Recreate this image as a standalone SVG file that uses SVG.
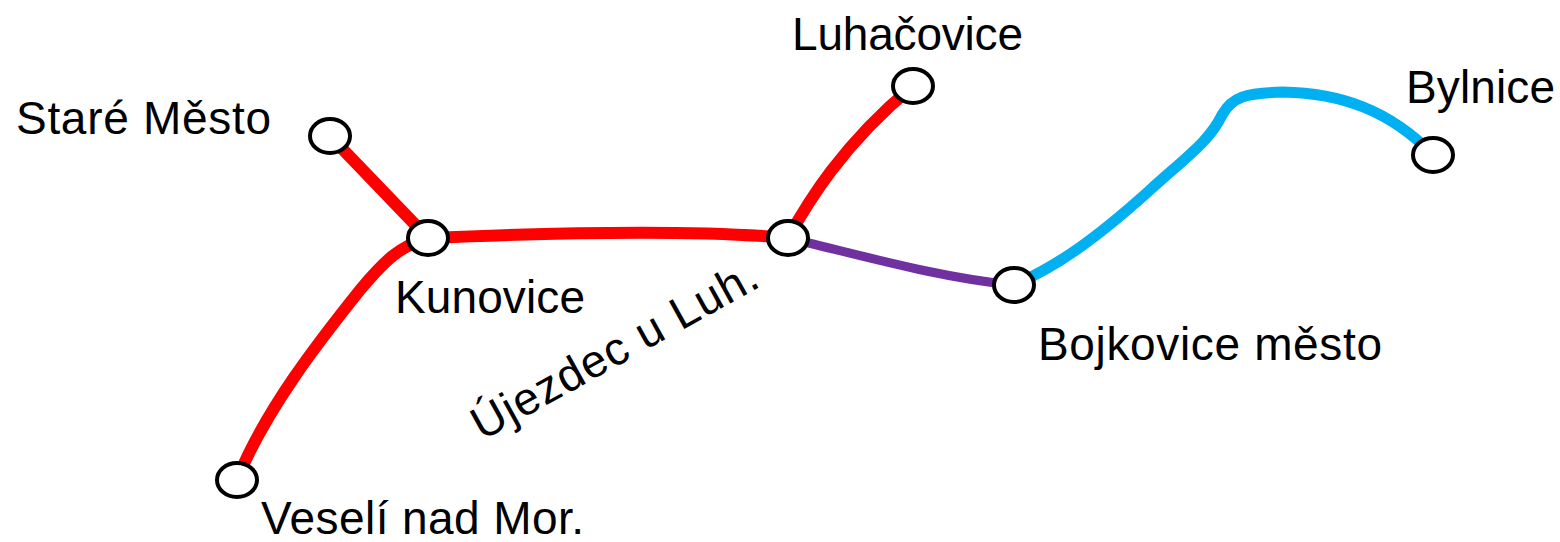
<svg xmlns="http://www.w3.org/2000/svg" width="1560" height="542" viewBox="0 0 1560 542">
<style>
.line{fill:none;stroke-linecap:round;stroke-linejoin:round}
.red{stroke:#FF0000;stroke-width:12}
.purple{stroke:#7030A0;stroke-width:9}
.blue{stroke:#00B0F0;stroke-width:11}
.st{fill:#FFFFFF;stroke:#000000;stroke-width:4}
.lbl{font-family:"Liberation Sans",Arial,sans-serif;font-size:46px;fill:#000000}
</style>
<rect width="1560" height="542" fill="#FFFFFF"/>
<g id="connectors">
<path class="line red" d="M330,136 L428,238"/>
<path class="line red" d="M428,238 C520,234 680,228 788,238"/>
<path class="line red" d="M428,238 C400,246 385,260 360,290 C320,340 265,410 237,480"/>
<path class="line red" d="M788,238 C808,202 842,145 913,86"/>
<path class="line purple" d="M788,238 C860,255 940,278 1014,285"/>
<path class="line blue" d="M1014,285 C1060,265 1100,235 1150,190 C1190,154 1210,140 1222,115 C1232,97 1245,93 1283,92 C1340,93 1390,110 1433,155"/>
</g>
<g id="stare-mesto">
<ellipse class="st" cx="330" cy="136" rx="20" ry="17"/>
<text class="lbl" x="16" y="134" textLength="255">Staré Město</text>
</g>
<g id="kunovice">
<ellipse class="st" cx="428" cy="238" rx="20" ry="17"/>
<text class="lbl" x="395" y="313" textLength="190">Kunovice</text>
</g>
<g id="veseli">
<ellipse class="st" cx="237" cy="480" rx="20" ry="17"/>
<text class="lbl" x="261" y="534" textLength="323">Veselí nad Mor.</text>
</g>
<g id="ujezdec">
<ellipse class="st" cx="788" cy="238" rx="20" ry="17"/>
<text class="lbl" x="0" y="0" textLength="320" transform="translate(482,441) rotate(-29)">Újezdec u Luh.</text>
</g>
<g id="luhacovice">
<ellipse class="st" cx="913" cy="86" rx="20" ry="17"/>
<text class="lbl" x="792" y="50" textLength="231">Luhačovice</text>
</g>
<g id="bojkovice">
<ellipse class="st" cx="1014" cy="285" rx="20" ry="17"/>
<text class="lbl" x="1038" y="360" textLength="344">Bojkovice město</text>
</g>
<g id="bylnice">
<ellipse class="st" cx="1433" cy="155" rx="20" ry="17"/>
<text class="lbl" x="1406" y="103" textLength="149">Bylnice</text>
</g>
</svg>
